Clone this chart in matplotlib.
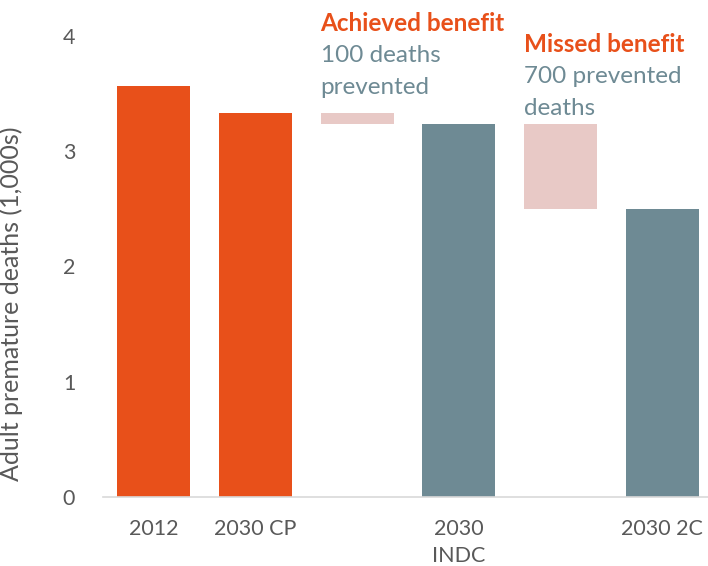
import matplotlib
matplotlib.use('Agg')
import matplotlib.pyplot as plt

plt.rcParams['font.family'] = ['Lato', 'DejaVu Sans']

# waterfall data, in thousands of deaths
categories = ['2012', '2030 CP', '', '2030\nINDC', '', '2030 2C']
bar_tops = [3.565, 3.33, 3.33, 3.235, 3.235, 2.50]
bar_bottoms = [0, 0, 3.235, 0, 2.50, 0]
bar_colors = ['#E8501A', '#E8501A', '#E8C9C6', '#6E8A94', '#E8C9C6', '#6E8A94']

notes = [
    (2, 'Achieved benefit', '100 deaths\nprevented', 4.21),
    (4, 'Missed benefit', '700 prevented\ndeaths', 4.03),
]

fig = plt.figure(figsize=(7.08, 5.66), dpi=100)
ax = fig.add_axes([103 / 708, 69 / 566, 610 / 708, 461 / 566])

x = range(len(categories))
heights = [t - b for t, b in zip(bar_tops, bar_bottoms)]
ax.bar(x, heights, bottom=bar_bottoms, width=0.72, color=bar_colors)

ax.set_xlim(-0.5, len(categories) - 0.5)
ax.set_ylim(0, 4)
ax.set_yticks([0, 1, 2, 3, 4])
ax.set_xticks(list(x))
ax.set_xticklabels(categories, fontsize=15.5, color='#595959', linespacing=1.45)
ax.tick_params(axis='y', labelsize=15.5, labelcolor='#595959', length=0, pad=20)
ax.tick_params(axis='x', length=0, pad=16)
for s in ['top', 'right', 'left']:
    ax.spines[s].set_visible(False)
ax.spines['bottom'].set_color('#D9D9D9')
ax.spines['bottom'].set_linewidth(1.2)
ax.set_ylabel('Adult premature deaths (1,000s)', fontsize=18, color='#595959')
ax.yaxis.set_label_coords(-0.131, 0.42)

# benefit annotations above the floating bars
for i, head, body, ytop in notes:
    ax.text(i - 0.36, ytop, head, fontsize=17.5, fontweight='bold',
            color='#E8501A', ha='left', va='top', clip_on=False)
    ax.text(i - 0.36, ytop - 0.29, body, fontsize=17.5, color='#6E8A94',
            ha='left', va='top', linespacing=1.62, clip_on=False)

fig.savefig('out.png', dpi=100)
